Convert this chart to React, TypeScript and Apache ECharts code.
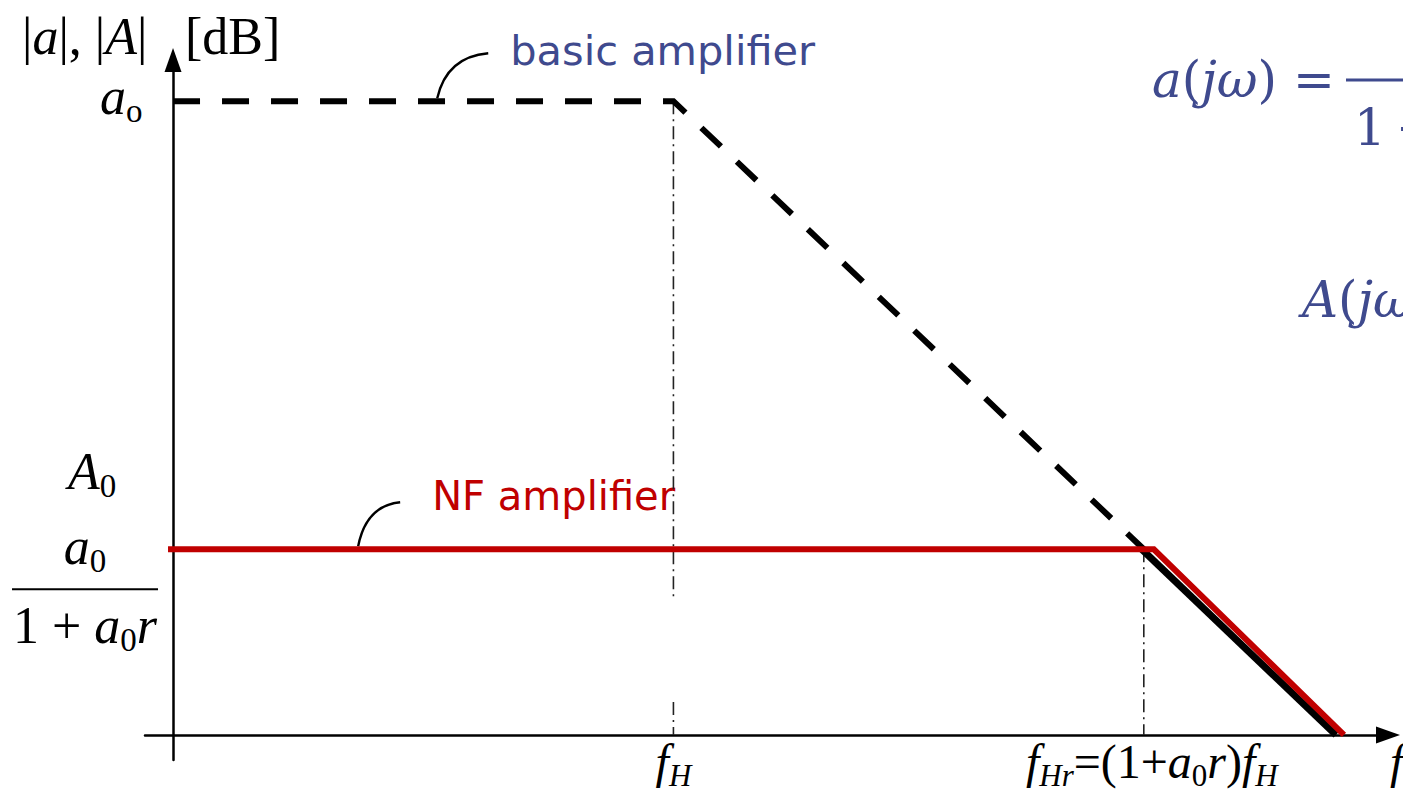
import React, { useEffect, useRef } from "react";
import * as echarts from "echarts";

// Axis extents: x in decades of frequency, y in dB (arbitrary reference)
const xMin = -0.28;
const xMax = 12.14;
const yMin = -3.95;
const yMax = 106.5;

// Open-loop (basic amplifier) asymptote
const basicX = [0, 5, 9.7];
const basicY = [100, 100, 29.3];
// Its continued roll-off below the closed-loop gain
const rolloffX = [9.66, 11.62];
const rolloffY = [29.6, 0];
// Closed-loop (NF amplifier) asymptote
const nfX = [-0.05, 9.8, 11.7];
const nfY = [29.3, 29.3, 0];
// Corner frequencies: f_H and f_Hr
const cornerX = [5, 9.7];
// Dash-dot guide spans (y from, y to)
const fhGuideUpper = [100, 21.5];
const fhGuideLower = [5.2, 0];
const fhrGuide = [29.3, 0];
// Gain levels
const openGain = 100;
const closedGain = 29.3;
// Where the leader curves touch their lines
const basicLeaderX = 2.64;
const nfLeaderX = 1.85;

const SERIF = '"Liberation Serif", "Times New Roman", serif';
const MATH = '"DejaVu Serif", "Liberation Serif", serif';
const SANS = '"DejaVu Sans", Verdana, sans-serif';
const BLUE = "#3f4a8e";
const RED = "#c00000";

const zip = (xs: number[], ys: number[]) => xs.map((x, i) => [x, ys[i]]);

function mathRich(size: number, family = SERIF, color = "#000") {
  const sub = Math.round(size * 0.64);
  const lh = Math.round(size * 1.2);
  const base = { fontFamily: family, fill: color, color };
  return {
    n: { ...base, fontSize: size, lineHeight: lh, verticalAlign: "middle" },
    i: { ...base, fontSize: size, lineHeight: lh, fontStyle: "italic", verticalAlign: "middle" },
    s: { ...base, fontSize: sub, lineHeight: sub, verticalAlign: "bottom" },
    si: { ...base, fontSize: sub, lineHeight: sub, fontStyle: "italic", verticalAlign: "bottom" },
  };
}

function mathText(x: number, y: number, text: string, align = "left", size = 52, family = SERIF, color = "#000") {
  return {
    type: "text",
    x,
    y,
    silent: true,
    style: { text, align, verticalAlign: "middle", fill: color, rich: mathRich(size, family, color) },
  };
}

export default function App() {
  const ref = useRef<HTMLDivElement>(null);

  useEffect(() => {
    const el = ref.current!;
    const chart = echarts.init(el, null, { renderer: "svg" });

    const axisCommon = {
      type: "value",
      axisLine: {
        onZero: true,
        symbol: ["none", "triangle"],
        symbolSize: [17, 24],
        lineStyle: { color: "#000", width: 2.5 },
      },
      axisTick: { show: false },
      axisLabel: { show: false },
      splitLine: { show: false },
    };

    const guide = (x: number, ys: number[]) => ({
      type: "line",
      data: [[x, ys[0]], [x, ys[1]]],
      symbol: "none",
      silent: true,
      z: 1,
      lineStyle: { color: "#222", width: 1.6, type: [13, 5, 2, 5] },
    });

    chart.setOption({
      animation: false,
      backgroundColor: "#fff",
      grid: { left: 145, right: 15, top: 60, bottom: 34 },
      xAxis: { ...axisCommon, min: xMin, max: xMax },
      yAxis: { ...axisCommon, min: yMin, max: yMax },
      series: [
        guide(cornerX[0], fhGuideUpper),
        guide(cornerX[0], fhGuideLower),
        guide(cornerX[1], fhrGuide),
        {
          name: "basic amplifier",
          type: "line",
          data: zip(basicX, basicY),
          symbol: "none",
          silent: true,
          z: 2,
          lineStyle: { color: "#000", width: 6, type: [27, 22], cap: "butt", join: "miter" },
        },
        {
          name: "roll-off",
          type: "line",
          data: zip(rolloffX, rolloffY),
          symbol: "none",
          silent: true,
          z: 3,
          lineStyle: { color: "#000", width: 7 },
        },
        {
          name: "NF amplifier",
          type: "line",
          data: zip(nfX, nfY),
          symbol: "none",
          silent: true,
          z: 4,
          lineStyle: { color: RED, width: 6, join: "miter" },
        },
      ],
    });

    const px = (x: number, y: number) => chart.convertToPixel({ gridIndex: 0 }, [x, y]) as number[];
    const origin = px(0, 0);
    const open = px(0, openGain);
    const closed = px(0, closedGain);
    const fH = px(cornerX[0], 0);
    const fHr = px(cornerX[1], 0);
    const bl = px(basicLeaderX, openGain);
    const nl = px(nfLeaderX, closedGain);
    const W = chart.getWidth();

    const leader = (p: number[], dx: number, dy: number) => ({
      type: "bezierCurve",
      silent: true,
      shape: {
        x1: p[0],
        y1: p[1] - 3,
        cpx1: p[0] + dx * 0.12,
        cpy1: p[1] + dy * 0.62,
        cpx2: p[0] + dx * 0.45,
        cpy2: p[1] + dy * 0.95,
        x2: p[0] + dx,
        y2: p[1] + dy,
      },
      style: { stroke: "#000", lineWidth: 2.4, fill: "none" },
    });

    const axisX = origin[0];

    chart.setOption({
      graphic: [
        // axis title
        mathText(axisX - 151, 36, "{n||}{i|a}{n||, |}{i|A}{n||}"),
        mathText(axisX + 12, 36, "{n|[dB]}"),
        // y-axis levels
        mathText(axisX - 73, open[1] - 5, "{i|a}{s|o}"),
        mathText(axisX - 105, closed[1] - 78, "{i|A}{s|0}"),
        mathText(axisX - 88, closed[1] - 3, "{i|a}{s|0}", "center"),
        {
          type: "line",
          silent: true,
          shape: { x1: axisX - 161, y1: closed[1] + 40, x2: axisX - 15, y2: closed[1] + 40 },
          style: { stroke: "#000", lineWidth: 2 },
        },
        mathText(axisX - 88, closed[1] + 76, "{n|1 + }{i|a}{s|0}{i|r}", "center"),
        // x-axis corner labels
        mathText(fH[0], fH[1] + 27, "{i|f}{si|H}", "center", 48),
        mathText(fHr[0] + 8, fHr[1] + 27, "{i|f}{si|Hr}{n|=(1+}{i|a}{s|0}{i|r}{n|)}{i|f}{si|H}", "center", 48),
        mathText(W - 13, fH[1] + 27, "{i|f}", "left", 48),
        // leader curves and line names
        leader(bl, 51, -48),
        {
          type: "text",
          x: bl[0] + 73,
          y: bl[1] - 51,
          silent: true,
          style: { text: "basic amplifier", fontFamily: SANS, fontSize: 41.5, fill: BLUE, verticalAlign: "middle" },
        },
        leader(nl, 42, -47),
        {
          type: "text",
          x: nl[0] + 74,
          y: nl[1] - 53,
          silent: true,
          style: { text: "NF amplifier", fontFamily: SANS, fontSize: 40, fill: RED, verticalAlign: "middle" },
        },
        // transfer functions
        mathText(1152, 80, "{i|a}{n|(}{i|jω}{n|) =}", "left", 50, MATH, BLUE),
        {
          type: "line",
          silent: true,
          shape: { x1: 1346, y1: 80, x2: W, y2: 80 },
          style: { stroke: BLUE, lineWidth: 3 },
        },
        mathText(1354, 128, "{n|1\u2009+}", "left", 50, MATH, BLUE),
        mathText(1302, 300, "{i|A}{n|(}{i|jω}", "left", 50, MATH, BLUE),
      ],
    });

    return () => chart.dispose();
  }, []);

  return <div ref={ref} style={{ position: "fixed", left: 0, top: 0, width: 1403, height: 794, background: "#fff" }} />;
}
